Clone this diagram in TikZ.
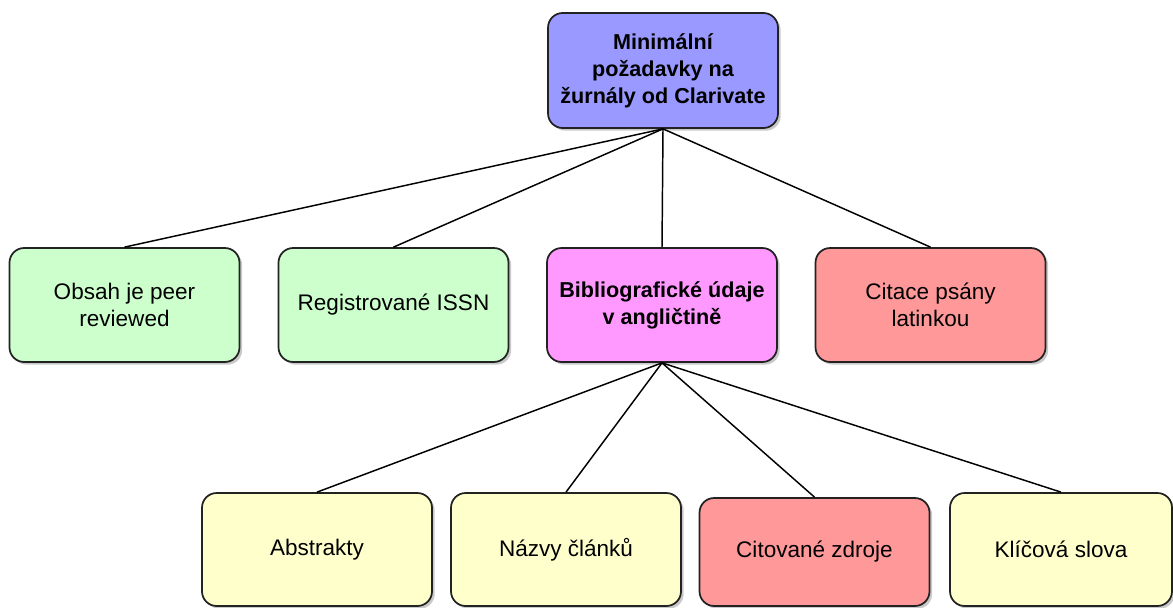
\documentclass[tikz,border=0pt]{standalone}
\usepackage{fontspec}
\setmainfont{Liberation Sans}
\usetikzlibrary{shadows}
\definecolor{topc}{HTML}{9999FF}
\definecolor{greenc}{HTML}{CCFFCC}
\definecolor{pinkc}{HTML}{FF99FF}
\definecolor{redc}{HTML}{FF9999}
\definecolor{yellowc}{HTML}{FFFFCC}
\definecolor{edgec}{HTML}{222222}
\tikzset{
  box/.style={draw=edgec, line width=1.3pt, rounded corners=11pt, align=center,
    inner sep=0pt, minimum width=172.5pt, minimum height=85.5pt,
    font=\fontsize{16.9pt}{20.6pt}\selectfont,
    drop shadow={shadow xshift=2pt, shadow yshift=-2pt, fill=black!35, opacity=0.6}},
  boldbox/.style={box, font=\fontsize{16.2pt}{20.2pt}\selectfont\bfseries},
  link/.style={draw=black, line width=1.1pt}
}
\begin{document}
\begin{tikzpicture}[x=0.75pt, y=-0.75pt]
\useasboundingbox (0,0) rectangle (1173,607);
\fill[white] (0,0) rectangle (1173,607);
% top
\node[boldbox, fill=topc, minimum height=86.25pt] (top) at (663,70.5) {Minimální\\požadavky na\\žurnály od Clarivate};
% row 2
\node[box, fill=greenc] (obsah) at (124.5,305) {Obsah je peer\\reviewed};
\node[box, fill=greenc] (issn) at (393.5,305) {Registrované ISSN};
\node[boldbox, fill=pinkc] (bib) at (662,305) {Bibliografické údaje\\v angličtině};
\node[box, fill=redc] (cit) at (930.5,305) {Citace psány\\latinkou};
% row 3
\node[box, fill=yellowc, minimum height=84.75pt] (abs) at (317,549.5) {Abstrakty};
\node[box, fill=yellowc, minimum height=84.75pt] (naz) at (566,549.5) {Názvy článků};
\node[box, fill=redc, minimum height=81pt] (zdr) at (814.5,552) {Citované zdroje};
\node[box, fill=yellowc, minimum width=166.5pt, minimum height=84.75pt] (klic) at (1061,549.5) {Klíčová slova};
% connectors
\draw[link] (top.south) -- (obsah.north);
\draw[link] (top.south) -- (issn.north);
\draw[link] (top.south) -- (bib.north);
\draw[link] (top.south) -- (cit.north);
\draw[link] (bib.south) -- (abs.north);
\draw[link] (bib.south) -- (naz.north);
\draw[link] (bib.south) -- (zdr.north);
\draw[link] (bib.south) -- (klic.north);
\end{tikzpicture}
\end{document}
